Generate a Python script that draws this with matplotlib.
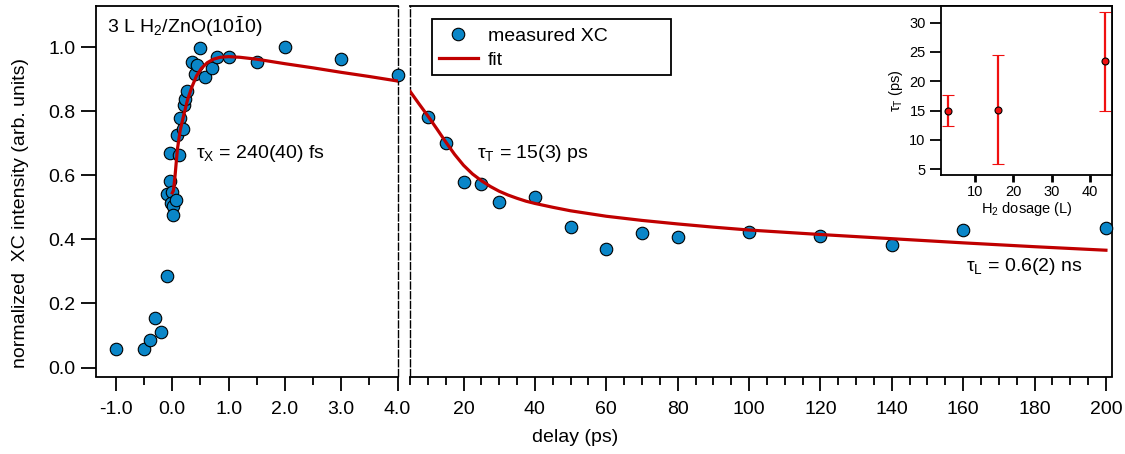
import matplotlib
matplotlib.use("Agg")
import matplotlib.pyplot as plt
from matplotlib.patches import Rectangle
from matplotlib.lines import Line2D

plt.rcParams['font.family'] = ['Liberation Sans', 'DejaVu Sans']
plt.rcParams['mathtext.fontset'] = 'custom'
plt.rcParams['mathtext.rm'] = 'Liberation Sans'
plt.rcParams['mathtext.it'] = 'Liberation Sans:italic'
plt.rcParams['mathtext.bf'] = 'Liberation Sans:bold'

# ---------------- data ----------------
# early delays (ps), left panel
t_early = [-1.0, -0.5, -0.4, -0.3, -0.2, -0.1, -0.09, -0.04, -0.04, 0.0, -0.02,
           0.02, 0.07, 0.01, 0.075, 0.12, 0.14, 0.19, 0.2, 0.23, 0.27, 0.35,
           0.40, 0.44, 0.5, 0.58, 0.7, 0.8, 1.0, 1.5, 2.0, 3.0, 4.0]
xc_early = [0.057, 0.057, 0.086, 0.154, 0.112, 0.287, 0.542, 0.669, 0.582, 0.549, 0.513,
            0.504, 0.524, 0.477, 0.727, 0.664, 0.778, 0.745, 0.820, 0.838, 0.862, 0.953,
            0.916, 0.944, 0.998, 0.907, 0.933, 0.970, 0.970, 0.952, 1.0, 0.962, 0.913]
# late delays (ps), right panel
t_late = [10, 15, 20, 25, 30, 40, 50, 60, 70, 80, 100, 120, 140, 160, 200]
xc_late = [0.783, 0.702, 0.579, 0.572, 0.518, 0.532, 0.440, 0.370, 0.419, 0.406,
           0.424, 0.409, 0.382, 0.430, 0.436]

# fit curve
fit_t_early = [0.0, 0.02, 0.05, 0.09, 0.14, 0.2, 0.27, 0.35, 0.43, 0.52, 0.62, 0.73,
               0.85, 1.0, 1.2, 1.5, 2.0, 2.5, 3.0, 3.5, 4.0]
fit_y_early = [0.545, 0.552, 0.60, 0.68, 0.74, 0.785, 0.835, 0.876, 0.91, 0.934, 0.951,
               0.962, 0.968, 0.970, 0.968, 0.962, 0.948, 0.935, 0.921, 0.908, 0.894]
fit_t_late = [5, 7.5, 10, 12.5, 15, 17.5, 20, 22.5, 25, 27.5, 30, 32.5, 35, 37.5, 40,
              45, 50, 60, 70, 80, 90, 100, 120, 140, 160, 180, 200]
fit_y_late = [0.862, 0.823, 0.785, 0.745, 0.704, 0.665, 0.631, 0.604, 0.583, 0.565,
              0.550, 0.538, 0.528, 0.519, 0.512, 0.500, 0.489, 0.472, 0.459, 0.448,
              0.438, 0.429, 0.415, 0.402, 0.389, 0.377, 0.366]

# inset: tau_T vs H2 dosage
dosage = [3, 16, 44]
tau_T = [15.0, 15.1, 23.4]
tau_T_err = [2.7, 9.3, 8.4]

left_xticks = [-1, 0, 1, 2, 3, 4]
left_xticklabels = ['-1.0', '0.0', '1.0', '2.0', '3.0', '4.0']
yticks = [0.0, 0.2, 0.4, 0.6, 0.8, 1.0]
yticklabels = ['0.0', '0.2', '0.4', '0.6', '0.8', '1.0']
right_xticks = list(range(20, 201, 20))

# ---------------- style ----------------
W, H = 1125, 454
blue = '#0a86c8'
red_fit = '#c00000'
red_err = '#f01010'
fs = 14

fig = plt.figure(figsize=(W / 100, H / 100), dpi=100)

def px_axes(x0, y0, x1, y1):
    return fig.add_axes([x0 / W, 1 - y1 / H, (x1 - x0) / W, (y1 - y0) / H])

axL = px_axes(96, 6, 397.5, 376.5)
axR = px_axes(410, 6, 1112, 376.5)
axI = px_axes(941, 6, 1112, 175)

for ax in (axL, axR):
    ax.set_ylim(-0.028, 1.128)
    for s in ax.spines.values():
        s.set_linewidth(1.3)
    ax.tick_params(which='major', direction='out', length=10, width=1.3,
                   labelsize=fs, pad=5)
    ax.tick_params(which='minor', direction='out', length=5.5, width=1.3)

axL.set_xlim(-1.355, 4.0)
axR.set_xlim(5, 201.7)

axL.spines['right'].set_linestyle((0, (5, 2)))
axL.spines['right'].set_linewidth(1.0)
axR.spines['left'].set_linestyle((0, (5, 2)))
axR.spines['left'].set_linewidth(1.0)

axL.set_xticks(left_xticks)
axL.set_xticklabels(left_xticklabels)
axL.set_xticks([x + 0.5 for x in left_xticks[:-1]], minor=True)
axL.set_yticks(yticks)
axL.set_yticklabels(yticklabels)
axL.tick_params(axis='y', pad=4, length=10.5)
axL.tick_params(axis='x', pad=8)

axR.set_xticks(right_xticks)
axR.set_xticks(list(range(5, 201, 5)), minor=True)
axR.set_yticks([])
axR.tick_params(axis='x', pad=8)

mk = dict(marker='o', linestyle='none', markersize=9, markerfacecolor=blue,
          markeredgecolor='black', markeredgewidth=0.8, clip_on=False, zorder=3)
axL.plot(t_early, xc_early, **mk)
axR.plot(t_late, xc_late, **mk)
axL.plot(fit_t_early, fit_y_early, color=red_fit, lw=2.3, zorder=4)
axR.plot(fit_t_late, fit_y_late, color=red_fit, lw=2.3, zorder=4)

# legend
handles = [Line2D([], [], marker='o', linestyle='none', markersize=9,
                  markerfacecolor=blue, markeredgecolor='black', markeredgewidth=0.8),
           Line2D([], [], color=red_fit, lw=2.3)]
def ax_frac(ax_px, px, py):
    x0, y0, x1, y1 = ax_px
    return ((px - x0) / (x1 - x0), 1 - (py - y0) / (y1 - y0))
R_PX = (410, 6, 1112, 376.5)
lx, ly = ax_frac(R_PX, 439, 27.5)
axR.legend(handles, ['measured XC', 'fit'], loc='upper left', bbox_to_anchor=(lx, ly),
           frameon=False, fontsize=fs, borderpad=0, borderaxespad=0,
           handlelength=2.0, handletextpad=0.5, labelspacing=0.32)
rx0, ry1 = ax_frac(R_PX, 432, 19)
rx1, ry0 = ax_frac(R_PX, 671, 75.3)
axR.add_patch(Rectangle((rx0, ry0), rx1 - rx0, ry1 - ry0, transform=axR.transAxes,
                        fill=False, edgecolor='black', lw=1.3, zorder=5))

# annotations
fig.text(106.7 / W, 1 - 33.3 / H, r'3 L H$_2$/ZnO(10$\bar{\mathrm{1}}$0)', fontsize=fs,
         ha='left', va='baseline')
fig.text(196 / W, 1 - 158.3 / H, r'τ$_\mathrm{X}$ = 240(40) fs', fontsize=fs,
         ha='left', va='baseline')
fig.text(476.7 / W, 1 - 158.3 / H, r'τ$_\mathrm{T}$ = 15(3) ps', fontsize=fs,
         ha='left', va='baseline')
fig.text(966 / W, 1 - 271 / H, r'τ$_\mathrm{L}$ = 0.6(2) ns', fontsize=fs,
         ha='left', va='baseline')

fig.text(21 / W, 1 - 213 / H, 'normalized  XC intensity (arb. units)', rotation=90,
         ha='center', va='center', fontsize=fs)
fig.text(575 / W, 1 - 437 / H, 'delay (ps)', ha='center', va='center', fontsize=fs)

# inset
axI.set_facecolor('white')
axI.set_zorder(10)
axI.errorbar(dosage, tau_T, yerr=tau_T_err, fmt='o', color=red_err, ecolor=red_err,
             elinewidth=1.6, capsize=4, capthick=1.6, markersize=5,
             markerfacecolor=red_err, markeredgecolor='black', markeredgewidth=0.8)
axI.set_xlim(1.1, 45.7)
axI.set_ylim(4.0, 32.85)
axI.set_xticks([10, 20, 30, 40])
axI.set_yticks([5, 10, 15, 20, 25, 30])
axI.tick_params(axis='y', direction='out', length=8, width=1.3, labelsize=10.5, pad=3)
axI.tick_params(axis='x', direction='out', length=5, width=2, labelsize=10.5, pad=2)
for s in axI.spines.values():
    s.set_linewidth(1.3)
axI.set_xlabel(r'H$_2$ dosage (L)', fontsize=10.5, labelpad=1)
axI.set_ylabel(r'τ$_\mathrm{T}$ (ps)', fontsize=10.5, labelpad=3)

fig.savefig('out.png', dpi=100)
